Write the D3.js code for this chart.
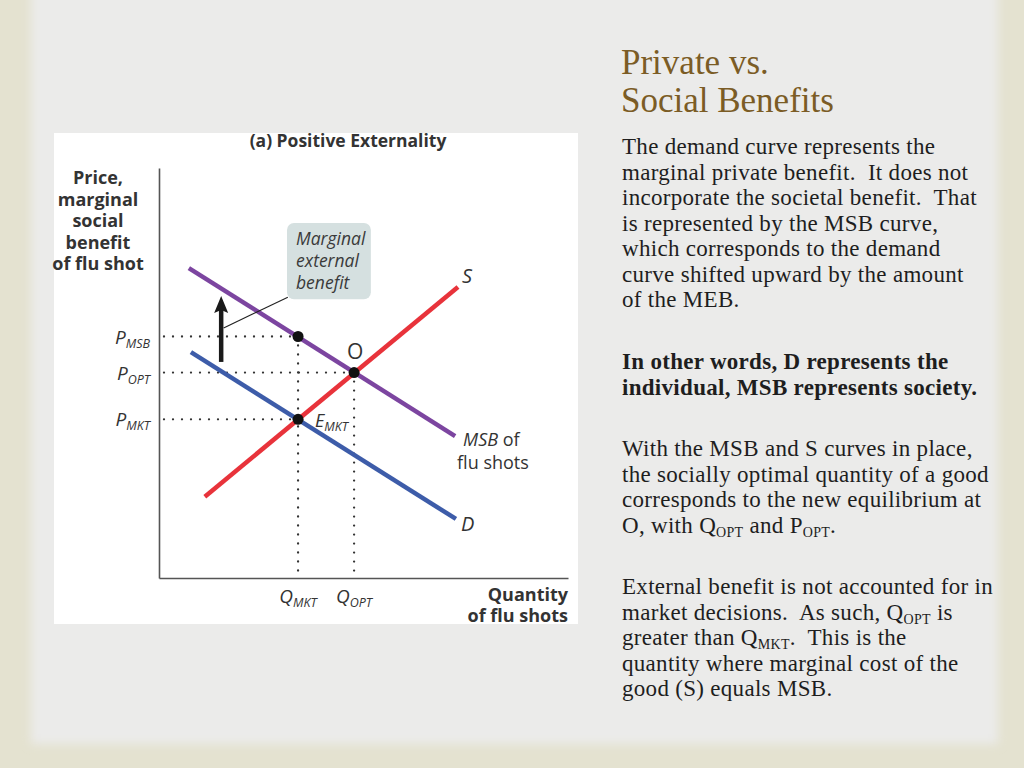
<!DOCTYPE html>
<html><head><meta charset="utf-8">
<script src="https://cdn.jsdelivr.net/npm/d3@7"></script>
<style>html,body{margin:0;padding:0;overflow:hidden;background:#ebebea}</style>
</head><body><svg id="c" width="1024" height="768"></svg>
<script>
// ---------- data ----------
const curveMSB = [[0.73, 7.56], [7.24, 3.46]];
const curveD   = [[0.78, 5.51], [7.26, 1.44]];
const curveS   = [[1.12, 1.98], [7.31, 7.10]];
const qNames  = ["MKT", "OPT"];
const qValues = [3.40, 4.77];
const pNames  = ["MSB", "OPT", "MKT"];
const pValues = [5.89, 5.01, 3.87];
const eqPoints = [[3.40, 5.89], [4.77, 5.01], [3.40, 3.87]];
const mebArrowQ = 1.52;
const mebArrowP = [5.27, 6.88];
const calloutBox = [[3.13, 8.66], [5.18, 6.80]];
const calloutLeader = [[1.58, 6.10], [3.15, 6.85]];
const calloutLines = ["Marginal", "external", "benefit"];
const yTitleLines = ["Price,", "marginal", "social", "benefit", "of flu shot"];
const xTitleLines = ["Quantity", "of flu shots"];
const chartTitle = "(a) Positive Externality";
const slideTitle = ["Private vs.", "Social Benefits"];
const para1 = ["The demand curve represents the", "marginal private benefit.  It does not", "incorporate the societal benefit.  That", "is represented by the MSB curve,", "which corresponds to the demand", "curve shifted upward by the amount", "of the MEB."];
const para2 = ["In other words, D represents the", "individual, MSB represents society."];
const para3 = ["With the MSB and S curves in place,", "the socially optimal quantity of a good", "corresponds to the new equilibrium at", "O, with Q_{OPT} and P_{OPT}."];
const para4 = ["External benefit is not accounted for in", "market decisions.  As such, Q_{OPT} is", "greater than Q_{MKT}.  This is the", "quantity where marginal cost of the", "good (S) equals MSB."];

// ---------- setup ----------
const svg = d3.select("#c");
const defs = svg.append("defs");
const f = defs.append("filter").attr("id", "soft").attr("x", "-5%").attr("y", "-5%").attr("width", "110%").attr("height", "110%");
f.append("feGaussianBlur").attr("stdDeviation", 5);

svg.append("rect").attr("width", 1024).attr("height", 768).attr("fill", "#e4e2d0");
svg.append("rect").attr("x", 31).attr("y", -30).attr("width", 967).attr("height", 774)
  .attr("fill", "#ebebea").attr("filter", "url(#soft)");

// white chart panel
svg.append("rect").attr("x", 54).attr("y", 133).attr("width", 524).attr("height", 491).attr("fill", "#ffffff");

const x = d3.scaleLinear().domain([0, 10]).range([159, 568]);
const y = d3.scaleLinear().domain([0, 10]).range([578, 168]);
const line = d3.line().x(d => x(d[0])).y(d => y(d[1]));
const ink = "#333333";
const sans = "'Open Sans', 'Noto Sans', sans-serif";
const serif = "'Liberation Serif', 'Times New Roman', serif";

function rich(sel, str, subSize, subDy) {
  const parts = str.split(/(_\{[^}]*\})/);
  let down = false;
  parts.forEach(p => {
    if (!p) return;
    if (p.startsWith("_{")) {
      sel.append("tspan").attr("dy", subDy).style("font-size", subSize + "px").text(p.slice(2, -1));
      down = true;
    } else {
      sel.append("tspan").attr("dy", down ? -subDy : 0).text(p);
      down = false;
    }
  });
}

const g = svg.append("g");

// axes
const xAxis = d3.axisBottom(x).tickValues([]).tickSize(0).tickSizeOuter(0);
const yAxis = d3.axisLeft(y).tickValues([]).tickSize(0).tickSizeOuter(0);
g.append("g").attr("transform", `translate(0,${y(0)})`).call(xAxis)
  .select(".domain").attr("stroke", "#555").attr("stroke-width", 1.6);
g.append("g").attr("transform", `translate(${x(0)},0)`).call(yAxis)
  .select(".domain").attr("stroke", "#555").attr("stroke-width", 1.6);

// dotted guides
const dotStyle = s => s.attr("stroke", ink).attr("stroke-width", 2.3).attr("stroke-dasharray", "0,9")
  .attr("stroke-linecap", "round").attr("fill", "none");
const hTargets = [qValues[0], qValues[1], qValues[0]];
pValues.forEach((p, i) => {
  g.append("line").attr("x1", x(0) + 5).attr("x2", x(hTargets[i])).attr("y1", y(p)).attr("y2", y(p)).call(dotStyle);
});
g.append("line").attr("x1", x(qValues[0])).attr("x2", x(qValues[0])).attr("y1", y(pValues[0])).attr("y2", y(0) - 3).call(dotStyle);
g.append("line").attr("x1", x(qValues[1])).attr("x2", x(qValues[1])).attr("y1", y(pValues[1])).attr("y2", y(0) - 3).call(dotStyle);

// curves
[[curveS, "#e8333b"], [curveD, "#3d5ca9"], [curveMSB, "#7c45a0"]].forEach(([data, col]) => {
  g.append("path").datum(data).attr("d", line).attr("stroke", col).attr("stroke-width", 4.5).attr("fill", "none");
});

// equilibrium points
g.selectAll(".pt").data(eqPoints).join("circle").attr("class", "pt")
  .attr("cx", d => x(d[0])).attr("cy", d => y(d[1])).attr("r", 5.5).attr("fill", "#111");

// callout
g.append("line").attr("x1", x(calloutLeader[0][0])).attr("y1", y(calloutLeader[0][1]))
  .attr("x2", x(calloutLeader[1][0])).attr("y2", y(calloutLeader[1][1])).attr("stroke", "#222").attr("stroke-width", 1.1);
g.append("rect").attr("x", x(calloutBox[0][0])).attr("y", y(calloutBox[0][1]))
  .attr("width", x(calloutBox[1][0]) - x(calloutBox[0][0])).attr("height", y(calloutBox[1][1]) - y(calloutBox[0][1]))
  .attr("rx", 7).attr("fill", "#d5e0e0");
calloutLines.forEach((t, i) => {
  g.append("text").attr("x", x(calloutBox[0][0]) + 9).attr("y", 245 + i * 22)
    .style("font-family", sans).style("font-style", "italic").style("font-size", "17.5px").attr("fill", "#3a3a3a").text(t);
});

// MEB arrow
const ax = x(mebArrowQ), ay0 = y(mebArrowP[0]), ay1 = y(mebArrowP[1]);
g.append("line").attr("x1", ax).attr("x2", ax).attr("y1", ay0).attr("y2", ay1 + 12).attr("stroke", "#1a1a1a").attr("stroke-width", 4.5);
g.append("path").attr("d", `M${ax},${ay1} L${ax - 7},${ay1 + 17} L${ax},${ay1 + 14} L${ax + 7},${ay1 + 17} Z`).attr("fill", "#1a1a1a");

// chart title and axis titles
g.append("text").attr("x", 348).attr("y", 147).attr("text-anchor", "middle")
  .style("font-family", sans).style("font-weight", "bold").style("font-size", "17.5px").attr("fill", ink).text(chartTitle);
yTitleLines.forEach((t, i) => {
  g.append("text").attr("x", 98).attr("y", 184 + i * 21.5).attr("text-anchor", "middle")
    .style("font-family", sans).style("font-weight", "bold").style("font-size", "18px").attr("fill", ink).text(t);
});
xTitleLines.forEach((t, i) => {
  g.append("text").attr("x", 568).attr("y", 601 + i * 21).attr("text-anchor", "end")
    .style("font-family", sans).style("font-weight", "bold").style("font-size", "18px").attr("fill", ink).text(t);
});

// price labels
pValues.forEach((p, i) => {
  const t = g.append("text").attr("x", 150).attr("y", y(p) + 7).attr("text-anchor", "end")
    .style("font-family", sans).style("font-style", "italic").style("font-size", "19px").attr("fill", ink);
  rich(t, "P_{" + pNames[i] + "}", 12.5, 4);
});
// quantity labels
qValues.forEach((q, i) => {
  const t = g.append("text").attr("x", x(q)).attr("y", 603).attr("text-anchor", "middle")
    .style("font-family", sans).style("font-style", "italic").style("font-size", "19px").attr("fill", ink);
  rich(t, "Q_{" + qNames[i] + "}", 12.5, 4);
});

// curve labels
const lab = (tx, ty, str, italic, size) => g.append("text").attr("x", tx).attr("y", ty)
  .style("font-family", sans).style("font-style", italic ? "italic" : "normal").style("font-size", size + "px").attr("fill", ink).text(str);
lab(x(curveS[1][0]) + 4, y(curveS[1][1]) - 4, "S", true, 20);
lab(x(curveD[1][0]) + 5, y(curveD[1][1]) + 12, "D", true, 20);
const msbT = g.append("text").attr("x", x(curveMSB[1][0]) + 8).attr("y", y(curveMSB[1][1]) + 10)
  .style("font-family", sans).style("font-size", "18px").attr("fill", ink);
msbT.append("tspan").style("font-style", "italic").text("MSB");
msbT.append("tspan").text(" of");
lab(x(curveMSB[1][0]) + 2, y(curveMSB[1][1]) + 33, "flu shots", false, 18);
lab(x(eqPoints[1][0]) - 7, y(eqPoints[1][1]) - 14, "O", false, 21);
const eT = g.append("text").attr("x", x(eqPoints[2][0]) + 17).attr("y", y(eqPoints[2][1]) + 8)
  .style("font-family", sans).style("font-style", "italic").style("font-size", "18px").attr("fill", ink);
rich(eT, "E_{MKT}", 12.5, 4);

// ---------- right-hand text ----------
slideTitle.forEach((t, i) => {
  svg.append("text").attr("x", 621).attr("y", 74 + i * 38).style("font-family", serif).style("font-size", "35px")
    .attr("fill", "#7b5c25").text(t);
});
function para(lines, y0, bold) {
  lines.forEach((t, i) => {
    const tx = svg.append("text").attr("x", 622).attr("y", y0 + i * 25.5)
      .style("font-family", serif).style("font-size", "23px").style("letter-spacing", "0.3px")
      .style("white-space", "pre").style("font-weight", bold ? "bold" : "normal").attr("fill", "#1e1e1e");
    rich(tx, t, 14, 4);
  });
}
para(para1, 154, false);
para(para2, 369, true);
para(para3, 456, false);
para(para4, 594, false);
</script></body></html>
